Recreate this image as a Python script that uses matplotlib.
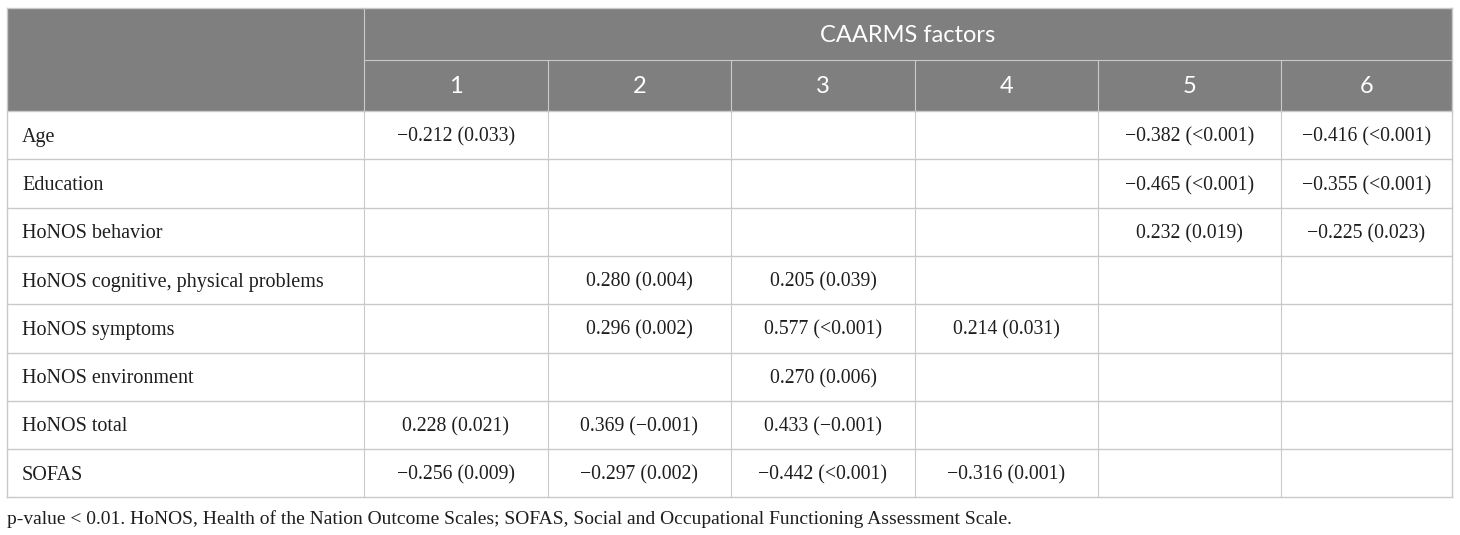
import matplotlib
matplotlib.use("Agg")
import matplotlib.pyplot as plt

# table contents
factors = ["1", "2", "3", "4", "5", "6"]
row_labels = ["Age", "Education", "HoNOS behavior", "HoNOS cognitive, physical problems",
              "HoNOS symptoms", "HoNOS environment", "HoNOS total", "SOFAS"]
col1 = ["\u22120.212 (0.033)", "", "", "", "", "", "0.228 (0.021)", "\u22120.256 (0.009)"]
col2 = ["", "", "", "0.280 (0.004)", "0.296 (0.002)", "", "0.369 (\u22120.001)", "\u22120.297 (0.002)"]
col3 = ["", "", "", "0.205 (0.039)", "0.577 (<0.001)", "0.270 (0.006)", "0.433 (\u22120.001)", "\u22120.442 (<0.001)"]
col4 = ["", "", "", "", "0.214 (0.031)", "", "", "\u22120.316 (0.001)"]
col5 = ["\u22120.382 (<0.001)", "\u22120.465 (<0.001)", "0.232 (0.019)", "", "", "", "", ""]
col6 = ["\u22120.416 (<0.001)", "\u22120.355 (<0.001)", "\u22120.225 (0.023)", "", "", "", "", ""]
group_title = "CAARMS factors"
footnote = ("p-value < 0.01. HoNOS, Health of the Nation Outcome Scales; "
            "SOFAS, Social and Occupational Functioning Assessment Scale.")

W, H = 1460, 535
fig = plt.figure(figsize=(W / 100, H / 100), dpi=100)
ax = fig.add_axes([0, 0, 1, 1])
ax.set_xlim(0, W); ax.set_ylim(H, 0); ax.axis("off")

xs = [7, 364, 548, 731, 915, 1098, 1281, 1452]
y_top, y_h1, y_h2 = 8, 60, 111
rh = 48.3
line = "#c9c9c9"; head = "#7f7f7f"; ink = "#1e1e1e"
serif = "Liberation Serif"; sans = "Lato"

ax.add_patch(plt.Rectangle((xs[0], y_top), xs[-1] - xs[0], y_h2 - y_top, color=head, lw=0))
ax.text((xs[1] + xs[-1]) / 2, (y_top + y_h1) / 2 + 1, group_title, color="white",
        fontsize=17, family=sans, ha="center", va="center")
for i, f in enumerate(factors):
    ax.text((xs[i + 1] + xs[i + 2]) / 2, (y_h1 + y_h2) / 2 + 1, f, color="white",
            fontsize=17, family=sans, ha="center", va="center")

cols = [col1, col2, col3, col4, col5, col6]
n = len(row_labels)
y_bot = y_h2 + n * rh
for r, lab in enumerate(row_labels):
    yc = y_h2 + (r + 0.5) * rh + 2
    ax.text(xs[0] + 15, yc, lab, fontsize=14.5, family=serif, va="center", ha="left", color=ink)
    for c in range(6):
        ax.text((xs[c + 1] + xs[c + 2]) / 2, yc, cols[c][r], fontsize=14.2, family=serif,
                va="center", ha="center", color=ink)

# grid lines
ax.plot([xs[0], xs[-1]], [y_top, y_top], color=line, lw=1)
ax.plot([xs[1], xs[-1]], [y_h1, y_h1], color=line, lw=0.8)
for r in range(n + 1):
    y = y_h2 + r * rh
    ax.plot([xs[0], xs[-1]], [y, y], color=line, lw=1)
for i, x in enumerate(xs):
    if i in (0, len(xs) - 1):
        ax.plot([x, x], [y_top, y_bot], color=line, lw=1)
    elif i == 1:
        ax.plot([x, x], [y_top, y_bot], color=line, lw=0.8)
    else:
        ax.plot([x, x], [y_h1, y_bot], color=line, lw=0.8)

ax.text(xs[0], 519, footnote, fontsize=14, family=serif, va="center", ha="left", color=ink)

fig.savefig("out.png", dpi=100)
